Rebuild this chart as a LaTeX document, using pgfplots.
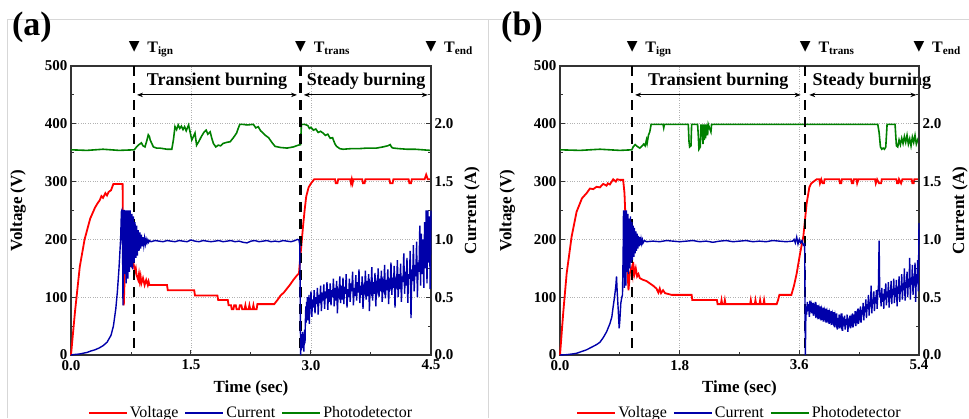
\documentclass[border=0pt]{standalone}
\usepackage{fontspec}
\setmainfont{Liberation Serif}
\newfontfamily\symfont{DejaVu Sans}
\usepackage{pgfplots}
\usepackage{pgfplotstable}
\pgfplotsset{compat=1.18}
\usetikzlibrary{arrows.meta}

\definecolor{vred}{RGB}{255,0,0}
\definecolor{cblue}{RGB}{0,0,170}
\definecolor{pgreen}{RGB}{0,128,0}
\definecolor{framegray}{RGB}{215,215,215}

\pgfplotsset{
  base/.style={
    scale only axis, height=289pt, anchor=south west,
    xmin=0, clip=false,
    axis line style={black!80, line width=1.2pt},
    tick style={black!80, line width=1pt},
    major tick length=5pt, minor tick length=3pt,
    tick align=inside,
    /pgf/number format/assume math mode=true,
    ticklabel style={font=\fontsize{15}{15}\selectfont\bfseries},
    xticklabel style={yshift=-1.5pt},
    label style={font=\fontsize{17}{17}\selectfont\bfseries},
  },
  volt/.style={
    base,
    ymin=0, ymax=500,
    xtick pos=bottom, ytick pos=left,
    xmajorgrids, ymajorgrids,
    grid style={black!30, dotted, line width=0.8pt},
    ytick={0,100,200,300,400,500}, yticklabels={0,100,200,300,400,500},
    minor ytick={50,150,250,350,450},
    xlabel={Time (sec)}, ylabel={Voltage (V)},
    xlabel style={at={(rel axis cs:0.5,-0.114)}, anchor=center},
    ylabel style={at={(rel axis cs:-0.147,0.5)}, anchor=center},
    legend style={draw=none, fill=none, font=\fontsize{16}{16}\selectfont,
      legend columns=3, at={(0.5,-0.199)}, anchor=center,
      /tikz/every even column/.append style={column sep=4pt}},
    legend image code/.code={\draw[#1, line width=2pt] (0pt,0pt) -- (38pt,0pt);},
  },
  curr/.style={
    base,
    ymin=0, ymax=2.5,
    axis x line=none, axis y line*=right,
    ytick={0,0.5,1,1.5,2}, yticklabels={0.0,0.5,1.0,1.5,2.0},
    minor ytick={0.25,0.75,1.25,1.75,2.25},
    ylabel={Current (A)},
    ylabel style={at={(rel axis cs:1.114,0.5)}, anchor=center},
  },
}
\tikzset{
  vline/.style={black, line width=2.2pt, dash pattern=on 10pt off 7pt},
  span/.style={black, line width=0.9pt, {Stealth[length=6pt,width=4.5pt]}-{Stealth[length=6pt,width=4.5pt]}},
  ann/.style={font=\fontsize{18}{18}\selectfont\bfseries, inner sep=0pt},
  tri/.style={font=\symfont\fontsize{14}{14}\selectfont, inner sep=0pt, yshift=19pt},
  tlab/.style={font=\fontsize{16}{16}\selectfont\bfseries, inner sep=0pt, anchor=base west, xshift=13pt, yshift=14pt},
}

% ---------- panel (a) data ----------
\pgfplotstableread{
t V
0 0
0.05 75
0.11 153
0.17 200
0.24 236
0.30 255
0.33 262
0.36 268
0.38 275
0.40 272
0.43 280
0.45 276
0.47 282
0.50 285
0.53 296
0.645 296
0.652 180
0.66 86
0.665 110
0.675 150
0.69 155
0.70 162
0.72 158
0.74 163
0.76 154
0.78 159
0.80 145
0.81 150
0.82 138
0.84 130
0.85 140
0.86 128
0.87 136
0.88 124
0.90 133
0.92 121
0.94 130
0.96 121
0.97 127
0.98 121
1.20 121
1.21 112
1.54 112
1.55 103
1.83 103
1.84 95
1.96 95
1.97 86
2.00 86
2.01 79
2.03 79
2.04 86
2.06 86
2.07 79
2.10 79
2.11 86
2.13 86
2.14 79
2.17 79
2.18 86
2.19 79
2.22 79
2.23 86
2.24 79
2.27 79
2.28 86
2.29 79
2.32 79
2.33 88
2.54 88
2.58 95
2.62 103
2.66 108
2.70 115
2.74 122
2.78 130
2.82 137
2.85 141
2.86 160
2.88 190
2.90 222
2.92 250
2.94 274
2.97 290
3.00 297
3.04 304
3.30 304
3.31 297
3.33 297
3.34 304
3.49 304
3.50 297
3.51 304
3.52 297
3.53 304
3.64 304
3.65 297
3.67 297
3.68 304
3.98 304
3.99 297
4.02 297
4.03 304
4.22 304
4.23 297
4.25 297
4.26 304
4.42 304
4.44 312
4.46 304
4.50 304
}\voltA

\pgfplotstableread{
t I
0 0
0.05 0.005
0.10 0.008
0.15 0.015
0.20 0.022
0.25 0.035
0.30 0.045
0.35 0.06
0.40 0.08
0.45 0.11
0.50 0.17
0.53 0.25
0.56 0.40
0.58 0.55
0.60 0.75
0.62 1.00
0.63 1.24
0.635 1.25
0.645 0.90
0.650 0.43
0.655 1.25
0.665 1.25
0.672 0.70
0.680 1.25
0.690 0.62
0.700 1.25
0.710 0.66
0.720 1.25
0.730 0.72
0.740 1.25
0.750 0.76
0.760 1.22
0.770 0.74
0.780 1.20
0.790 0.80
0.800 1.15
0.810 0.84
0.820 1.12
0.830 0.86
0.840 1.08
0.850 0.90
0.860 1.06
0.870 0.92
0.880 1.04
0.890 0.94
0.900 1.02
0.910 0.95
0.920 1.01
0.930 0.96
0.940 1.00
0.950 0.97
0.960 0.995
0.970 0.975
0.980 0.99
1.00 0.98
1.05 0.99
1.10 0.985
1.15 0.98
1.20 0.99
1.25 0.985
1.30 0.98
1.35 0.99
1.40 0.985
1.45 0.98
1.50 0.995
1.55 0.985
1.60 0.98
1.65 0.99
1.70 0.985
1.75 0.98
1.80 0.985
1.85 0.99
1.90 0.98
1.95 0.985
2.00 0.99
2.05 0.98
2.10 0.985
2.15 0.975
2.20 0.97
2.25 0.985
2.30 0.99
2.35 0.98
2.40 0.985
2.45 0.99
2.50 0.98
2.55 0.985
2.60 0.98
2.65 0.99
2.70 0.985
2.75 0.98
2.80 0.99
2.83 1.00
2.85 0.995
2.86 0.95
2.865 0.50
2.870 0.00
2.875 0.10
2.880 0.04
2.885 0.18
2.890 0.06
2.895 0.20
2.900 0.08
2.905 0.15
2.910 0.03
2.915 0.12
2.920 0.22
2.925 0.10
2.930 0.30
2.935 0.42
2.940 0.28
2.945 0.46
2.950 0.35
2.955 0.50
2.960 0.30
2.965 0.44
2.970 0.38
2.975 0.52
2.980 0.27
2.985 0.47
2.990 0.40
3.00 0.55
3.01 0.33
3.02 0.48
3.03 0.41
3.04 0.56
3.05 0.36
3.06 0.50
3.07 0.44
3.08 0.58
3.09 0.35
3.10 0.52
3.11 0.45
3.12 0.60
3.13 0.38
3.14 0.54
3.15 0.47
3.16 0.61
3.17 0.40
3.18 0.55
3.19 0.49
3.20 0.63
3.21 0.39
3.22 0.57
3.23 0.46
3.24 0.62
3.25 0.43
3.26 0.56
3.27 0.50
3.28 0.66
3.29 0.42
3.30 0.58
3.31 0.47
3.32 0.64
3.33 0.36
3.34 0.55
3.35 0.52
3.36 0.68
3.37 0.45
3.38 0.60
3.39 0.48
3.40 0.67
3.41 0.44
3.42 0.59
3.43 0.53
3.44 0.70
3.45 0.41
3.46 0.57
3.47 0.50
3.48 0.66
3.49 0.46
3.50 0.62
3.51 0.55
3.52 0.72
3.53 0.43
3.54 0.58
3.55 0.51
3.56 0.69
3.57 0.47
3.58 0.63
3.59 0.54
3.60 0.74
3.61 0.45
3.62 0.60
3.63 0.52
3.64 0.68
3.65 0.40
3.66 0.58
3.67 0.55
3.68 0.73
3.69 0.48
3.70 0.64
3.71 0.51
3.72 0.70
3.73 0.38
3.74 0.60
3.75 0.56
3.76 0.76
3.77 0.47
3.78 0.63
3.79 0.53
3.80 0.71
3.81 0.42
3.82 0.61
3.83 0.57
3.84 0.75
3.85 0.50
3.86 0.66
3.87 0.55
3.88 0.73
3.89 0.46
3.90 0.62
3.91 0.58
3.92 0.78
3.93 0.49
3.94 0.65
3.95 0.56
3.96 0.74
3.97 0.44
3.98 0.63
3.99 0.60
4.00 0.80
4.01 0.52
4.02 0.67
4.03 0.58
4.04 0.77
4.05 0.41
4.06 0.64
4.07 0.61
4.08 0.82
4.09 0.50
4.10 0.70
4.11 0.57
4.12 0.79
4.13 0.46
4.14 0.68
4.15 0.63
4.16 0.88
4.17 0.53
4.18 0.72
4.19 0.60
4.20 0.84
4.21 0.45
4.22 0.70
4.23 0.66
4.24 0.90
4.25 0.32
4.26 0.74
4.27 0.64
4.28 0.95
4.29 0.55
4.30 0.78
4.31 0.68
4.32 0.98
4.33 0.50
4.34 0.80
4.35 0.72
4.36 1.12
4.37 0.60
4.38 1.05
4.39 0.70
4.40 1.00
4.41 0.58
4.42 1.15
4.43 0.75
4.44 1.25
4.45 0.62
4.46 1.25
4.47 0.80
4.48 1.20
4.49 0.57
4.50 1.25
}\currA

\pgfplotstableread{
t P
0 355
0.2 354
0.4 356
0.6 354
0.79 355
0.82 360
0.84 363
0.86 365
0.88 367
0.90 362
0.925 360
0.95 372
0.966 381
0.98 378
0.99 372
1.01 366
1.03 360
1.07 358
1.11 358
1.20 356
1.26 356
1.28 372
1.30 395
1.32 390
1.34 398
1.36 392
1.38 396
1.40 390
1.42 395
1.44 388
1.47 398
1.49 385
1.51 372
1.53 378
1.55 384
1.57 363
1.60 370
1.63 378
1.66 385
1.69 389
1.71 382
1.74 386
1.76 375
1.78 366
1.81 360
1.84 363
1.87 362
1.90 366
1.95 368
1.99 369
2.03 376
2.07 384
2.09 392
2.11 399
2.15 399
2.20 398
2.28 399
2.31 393
2.34 395
2.37 388
2.40 384
2.43 380
2.47 376
2.51 368
2.55 361
2.62 359
2.70 358
2.78 360
2.84 363
2.87 364
2.88 399
2.92 399
2.96 397
2.98 392
3.00 394
3.03 389
3.06 391
3.09 385
3.12 387
3.15 384
3.18 380
3.21 382
3.24 375
3.27 376
3.28 372
3.30 365
3.32 361
3.36 357
3.40 356
3.50 357
3.60 357
3.70 358
3.82 358
3.90 360
3.96 362
3.99 364
4.01 359
4.03 358
4.10 357
4.20 356
4.30 356
4.40 355
4.49 354
4.50 356
}\photA

% ---------- panel (b) data ----------
\pgfplotstableread{
t V
0 0
0.05 75
0.10 141
0.175 205
0.25 248
0.33 271
0.40 280
0.45 288
0.50 287
0.55 291
0.60 290
0.65 296
0.70 293
0.72 297
0.75 295
0.80 304
0.84 300
0.86 304
0.90 303
0.95 303
0.97 280
0.99 222
1.01 160
1.03 112
1.04 125
1.05 141
1.07 150
1.09 138
1.10 161
1.12 140
1.14 150
1.16 136
1.18 140
1.20 133
1.25 130
1.30 128
1.35 124
1.40 120
1.45 115
1.48 108
1.50 115
1.52 107
1.55 112
1.58 107
1.68 104
1.98 104
1.99 95
2.36 95
2.37 88
2.42 88
2.43 95
2.44 88
2.47 88
2.48 95
2.49 88
2.86 88
2.87 95
2.88 88
2.93 88
2.94 95
2.95 88
3.00 88
3.01 95
3.02 88
3.06 88
3.07 95
3.08 88
3.26 88
3.28 95
3.30 104
3.48 104
3.52 120
3.56 141
3.61 175
3.66 205
3.71 262
3.75 290
3.78 297
3.86 304
3.90 304
3.91 297
3.93 304
3.95 297
3.97 297
3.98 304
4.20 304
4.21 297
4.23 297
4.24 304
4.38 304
4.39 297
4.41 297
4.42 304
4.46 304
4.47 297
4.49 304
4.74 304
4.75 297
4.77 304
4.80 297
4.83 297
4.84 304
5.06 304
5.07 297
5.09 297
5.10 304
5.13 297
5.15 304
5.29 304
5.30 297
5.32 297
5.33 304
5.40 304
}\voltB

\pgfplotstableread{
t I
0 0
0.10 0.003
0.20 0.01
0.25 0.015
0.30 0.025
0.35 0.035
0.40 0.045
0.45 0.06
0.50 0.075
0.55 0.09
0.60 0.11
0.65 0.15
0.70 0.20
0.75 0.27
0.78 0.33
0.80 0.42
0.82 0.50
0.84 0.60
0.85 0.68
0.86 0.55
0.875 0.40
0.89 0.23
0.90 0.30
0.915 0.45
0.93 0.50
0.94 0.52
0.95 0.90
0.955 1.25
0.960 0.78
0.965 1.25
0.970 0.58
0.975 1.25
0.980 0.68
0.985 1.25
0.990 0.60
1.000 1.25
1.01 0.72
1.02 1.22
1.03 0.70
1.04 1.18
1.05 0.75
1.06 1.20
1.07 0.80
1.08 1.15
1.09 0.82
1.10 1.12
1.11 0.85
1.12 1.10
1.13 0.88
1.14 1.07
1.15 0.90
1.16 1.05
1.17 0.92
1.18 1.03
1.19 0.94
1.20 1.02
1.21 0.95
1.22 1.00
1.23 0.965
1.24 0.995
1.25 0.97
1.27 0.99
1.30 0.98
1.40 0.985
1.50 0.98
1.60 0.99
1.70 0.985
1.80 0.98
1.90 0.985
2.00 0.99
2.10 0.98
2.20 0.985
2.30 0.975
2.40 0.985
2.50 0.99
2.60 0.98
2.70 0.985
2.80 0.99
2.90 0.98
3.00 0.985
3.10 0.98
3.20 0.99
3.30 0.985
3.40 0.98
3.50 0.985
3.52 1.00
3.54 0.97
3.56 1.02
3.58 0.96
3.60 1.00
3.62 0.97
3.64 0.99
3.66 0.95
3.68 0.96
3.685 0.50
3.690 0.00
3.695 0.20
3.70 0.42
3.71 0.35
3.72 0.46
3.73 0.38
3.74 0.44
3.75 0.33
3.76 0.47
3.77 0.40
3.78 0.43
3.79 0.36
3.80 0.45
3.81 0.34
3.82 0.41
3.83 0.38
3.84 0.46
3.85 0.32
3.86 0.40
3.87 0.36
3.88 0.43
3.89 0.31
3.90 0.39
3.91 0.35
3.92 0.42
3.93 0.30
3.94 0.38
3.95 0.34
3.96 0.41
3.97 0.29
3.98 0.37
3.99 0.33
4.00 0.40
4.01 0.28
4.02 0.36
4.03 0.32
4.04 0.39
4.05 0.27
4.06 0.35
4.07 0.31
4.08 0.38
4.09 0.26
4.10 0.34
4.11 0.30
4.12 0.37
4.13 0.24
4.14 0.33
4.15 0.29
4.16 0.36
4.17 0.22
4.18 0.32
4.19 0.28
4.20 0.35
4.21 0.23
4.22 0.31
4.23 0.27
4.24 0.36
4.25 0.21
4.26 0.30
4.27 0.28
4.28 0.34
4.29 0.22
4.30 0.31
4.31 0.26
4.32 0.35
4.33 0.20
4.34 0.29
4.35 0.27
4.36 0.34
4.37 0.23
4.38 0.31
4.39 0.28
4.40 0.36
4.41 0.24
4.42 0.32
4.43 0.30
4.44 0.38
4.45 0.25
4.46 0.34
4.47 0.31
4.48 0.40
4.49 0.27
4.50 0.36
4.51 0.33
4.52 0.42
4.53 0.28
4.54 0.39
4.55 0.35
4.56 0.45
4.57 0.30
4.58 0.42
4.59 0.37
4.60 0.48
4.61 0.32
4.62 0.44
4.63 0.40
4.64 0.52
4.65 0.34
4.66 0.46
4.67 0.42
4.68 0.60
4.69 0.36
4.70 0.48
4.71 0.44
4.72 0.55
4.73 0.38
4.74 0.50
4.75 0.45
4.76 0.56
4.77 0.40
4.78 0.52
4.79 0.60
4.80 0.99
4.81 0.50
4.82 0.54
4.83 0.42
4.84 0.58
4.85 0.46
4.86 0.53
4.87 0.40
4.88 0.57
4.89 0.48
4.90 0.62
4.91 0.43
4.92 0.55
4.93 0.50
4.94 0.63
4.95 0.41
4.96 0.56
4.97 0.49
4.98 0.64
4.99 0.44
5.00 0.57
5.01 0.52
5.02 0.66
5.03 0.45
5.04 0.58
5.05 0.50
5.06 0.65
5.07 0.42
5.08 0.59
5.09 0.53
5.10 0.68
5.11 0.46
5.12 0.60
5.13 0.55
5.14 0.70
5.15 0.48
5.16 0.62
5.17 0.56
5.18 0.75
5.19 0.47
5.20 0.63
5.21 0.58
5.22 0.72
5.23 0.50
5.24 0.66
5.25 0.59
5.26 0.84
5.27 0.48
5.28 0.67
5.29 0.61
5.30 0.78
5.31 0.52
5.32 0.68
5.33 0.60
5.34 0.80
5.35 0.46
5.36 0.70
5.37 0.62
5.38 0.82
5.39 0.55
5.40 1.14
}\currB

\pgfplotstableread{
t P
0 355
0.3 354
0.6 356
0.9 354
1.08 355
1.10 360
1.13 364
1.16 361
1.20 358
1.23 361
1.26 365
1.28 362
1.30 372
1.31 366
1.33 380
1.35 386
1.36 392
1.37 399
1.55 399
1.56 393
1.57 399
1.93 399
1.94 370
1.95 360
1.97 362
1.98 399
2.07 399
2.08 380
2.09 356
2.11 360
2.12 399
2.13 378
2.14 399
2.15 365
2.16 399
2.17 372
2.18 399
2.19 375
2.20 399
2.22 380
2.23 399
2.27 386
2.28 399
4.78 399
4.80 385
4.82 360
4.84 356
4.86 358
4.88 356
4.90 360
4.92 399
5.04 399
5.05 380
5.06 362
5.08 360
5.10 372
5.12 364
5.14 375
5.16 366
5.18 378
5.20 368
5.22 380
5.24 365
5.26 374
5.28 362
5.30 377
5.32 368
5.34 380
5.36 365
5.38 372
5.40 378
}\photB

\begin{document}
\begin{tikzpicture}
\useasboundingbox (0pt,0pt) rectangle (969pt,418pt);
\draw[framegray, line width=1pt] (7pt,0pt) -- (7pt,398pt) -- (969pt,398pt);
\draw[framegray, line width=1pt] (488pt,0pt) -- (488pt,398pt);
\node[font=\fontsize{34}{34}\selectfont\bfseries, inner sep=0pt] at (32pt,391pt) {(a)};
\node[font=\fontsize{34}{34}\selectfont\bfseries, inner sep=0pt] at (522pt,391pt) {(b)};

% ===== panel (a) =====
\begin{axis}[volt, at={(71pt,63pt)}, width=360pt, xmax=4.5,
  xtick={0,1.5,3,4.5}, xticklabels={0.0,1.5,3.0,4.5}, minor xtick={0.75,2.25,3.75}]
\addplot[vred, line width=1.8pt] table[x=t,y=V] {\voltA};
\addlegendentry{Voltage}
\addlegendimage{cblue, line width=1.8pt}
\addlegendentry{Current}
\addplot[pgreen, line width=1.6pt] table[x=t,y=P] {\photA};
\addlegendentry{Photodetector}
\draw[vline] (axis cs:0.79,500) -- (axis cs:0.79,0);
\draw[vline] (axis cs:2.87,500) -- (axis cs:2.87,0);
\draw[span] (axis cs:0.825,450) -- (axis cs:2.825,450);
\draw[span] (axis cs:2.91,450) -- (axis cs:4.46,450);
\node[ann] at (axis cs:1.825,474) {Transient burning};
\node[ann] at (axis cs:3.69,474) {Steady burning};
\node[tri] at (axis cs:0.79,500) {▼};
\node[tri] at (axis cs:2.87,500) {▼};
\node[tri] at (axis cs:4.5,500) {▼};
\node[tlab] at (axis cs:0.79,500) {T\textsubscript{ign}};
\node[tlab] at (axis cs:2.87,500) {T\textsubscript{trans}};
\node[tlab] at (axis cs:4.5,500) {T\textsubscript{end}};
\end{axis}
\begin{axis}[curr, at={(71pt,63pt)}, width=360pt, xmax=4.5]
\addplot[cblue, line width=1.4pt] table[x=t,y=I] {\currA};
\end{axis}

% ===== panel (b) =====
\begin{axis}[volt, at={(560pt,63pt)}, width=359pt, xmax=5.4,
  xtick={0,1.8,3.6,5.4}, xticklabels={0.0,1.8,3.6,5.4}, minor xtick={0.9,2.7,4.5}]
\addplot[vred, line width=1.8pt] table[x=t,y=V] {\voltB};
\addlegendentry{Voltage}
\addlegendimage{cblue, line width=1.8pt}
\addlegendentry{Current}
\addplot[pgreen, line width=1.6pt] table[x=t,y=P] {\photB};
\addlegendentry{Photodetector}
\draw[vline] (axis cs:1.087,500) -- (axis cs:1.087,0);
\draw[vline] (axis cs:3.69,500) -- (axis cs:3.69,0);
\draw[span] (axis cs:1.13,450) -- (axis cs:3.62,450);
\draw[span] (axis cs:3.75,450) -- (axis cs:5.36,450);
\node[ann] at (axis cs:2.38,474) {Transient burning};
\node[ann] at (axis cs:4.69,474) {Steady burning};
\node[tri] at (axis cs:1.087,500) {▼};
\node[tri] at (axis cs:3.69,500) {▼};
\node[tri] at (axis cs:5.4,500) {▼};
\node[tlab] at (axis cs:1.087,500) {T\textsubscript{ign}};
\node[tlab] at (axis cs:3.69,500) {T\textsubscript{trans}};
\node[tlab] at (axis cs:5.4,500) {T\textsubscript{end}};
\end{axis}
\begin{axis}[curr, at={(560pt,63pt)}, width=359pt, xmax=5.4]
\addplot[cblue, line width=1.4pt] table[x=t,y=I] {\currB};
\end{axis}
\end{tikzpicture}
\end{document}
